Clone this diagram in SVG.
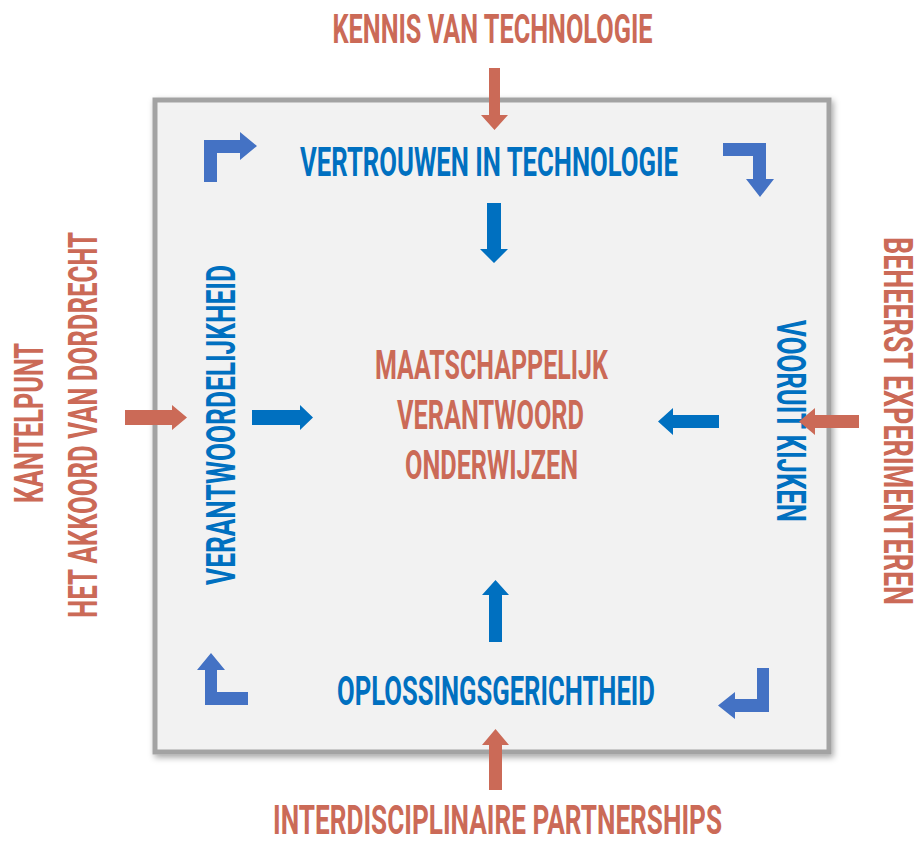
<svg xmlns="http://www.w3.org/2000/svg" width="922" height="845" viewBox="0 0 922 845">
  <defs>
    <style>
      .t { font-family: Roboto, "Liberation Sans", sans-serif; font-weight: 700; font-size: 41px; text-anchor: middle; }
      .red { fill: #cb6a57; }
      .blue { fill: #0070c0; }
      .ab { fill: #0070c0; }
      .ar { fill: #cb6a57; }
      .ac { fill: #4472c4; }
    </style>
    <filter id="sh" x="-10%" y="-10%" width="120%" height="120%">
      <feDropShadow dx="2" dy="3" stdDeviation="3" flood-color="#000" flood-opacity="0.35"/>
    </filter>
  </defs>
  <rect width="922" height="845" fill="#ffffff"/>

  <g id="frame">
    <rect x="155" y="100" width="674" height="652" fill="#f2f2f2" stroke="#a3a3a3" stroke-width="5" filter="url(#sh)"/>
  </g>

  <g id="kennis"><text class="t red" x="492.5" y="43" textLength="320" lengthAdjust="spacingAndGlyphs">KENNIS VAN TECHNOLOGIE</text></g>
  <g id="vertrouwen"><text class="t blue" x="489" y="176" textLength="378" lengthAdjust="spacingAndGlyphs">VERTROUWEN IN TECHNOLOGIE</text></g>
  <g id="center">
    <text class="t red" x="491.5" y="379" textLength="233" lengthAdjust="spacingAndGlyphs">MAATSCHAPPELIJK</text>
    <text class="t red" x="490.5" y="429" textLength="187" lengthAdjust="spacingAndGlyphs">VERANTWOORD</text>
    <text class="t red" x="491.5" y="479" textLength="173" lengthAdjust="spacingAndGlyphs">ONDERWIJZEN</text>
  </g>
  <g id="verantwoordelijkheid"><text class="t blue" transform="translate(235,425) rotate(-90)" x="0" y="0" textLength="320" lengthAdjust="spacingAndGlyphs">VERANTWOORDELIJKHEID</text></g>
  <g id="vooruit"><text class="t blue" transform="translate(777,421) rotate(90)" x="0" y="0" textLength="202" lengthAdjust="spacingAndGlyphs">VOORUIT KIJKEN</text></g>
  <g id="oplossings"><text class="t blue" x="496" y="705" textLength="318" lengthAdjust="spacingAndGlyphs">OPLOSSINGSGERICHTHEID</text></g>
  <g id="kantelpunt">
    <text class="t red" transform="translate(43,423) rotate(-90)" x="0" y="0" textLength="160" lengthAdjust="spacingAndGlyphs">KANTELPUNT</text>
    <text class="t red" transform="translate(97,425) rotate(-90)" x="0" y="0" textLength="386" lengthAdjust="spacingAndGlyphs">HET AKKOORD VAN DORDRECHT</text>
  </g>
  <g id="beheerst"><text class="t red" style="font-size:40px" transform="translate(884,421) rotate(90)" x="0" y="0" textLength="368" lengthAdjust="spacingAndGlyphs">BEHEERST EXPERIMENTEREN</text></g>
  <g id="interdisciplinaire"><text class="t red" style="font-size:40px" transform="translate(497.5,834) scale(0.5,1)" x="0" y="0" textLength="898" lengthAdjust="spacingAndGlyphs">INTERDISCIPLINAIRE PARTNERSHIPS</text></g>

  <g id="connectors">
    <!-- outer red arrows -->
    <polygon class="ar" points="489,68 500,68 500,115 508,115 494.5,130 481,115 489,115"/>
    <polygon class="ar" points="489,790 502,790 502,745 509,745 495.5,729 482,745 489,745"/>
    <polygon class="ar" points="125,410 172,410 172,405 187,417.5 172,430 172,425 125,425"/>
    <polygon class="ar" points="859,415 815,415 815,408 799,421.5 815,435 815,428 859,428"/>
    <!-- inner blue arrows -->
    <polygon class="ab" points="487,203 501,203 501,249 508,249 494,263 480,249 487,249"/>
    <polygon class="ab" points="489,642 502,642 502,595 509,595 495.5,580 482,595 489,595"/>
    <polygon class="ab" points="252,410 300,410 300,405 313,417.5 300,430 300,425 252,425"/>
    <polygon class="ab" points="719,415 673,415 673,408 658,421.5 673,435 673,428 719,428"/>
    <!-- corner arrows -->
    <polygon class="ac" points="204,182 217,182 217,153 240,153 240,160 257,146 240,132 240,140 204,140"/>
    <polygon class="ac" points="723,143 766,143 766,179 774,179 760,197 746,179 753,179 753,156 723,156"/>
    <polygon class="ac" points="205,705 248,705 248,692 217,692 217,670 225,670 211,653 197,670 205,670"/>
    <polygon class="ac" points="757,668 769,668 769,712 735,712 735,719 718,705.5 735,692 735,699 757,699"/>
  </g>
</svg>
